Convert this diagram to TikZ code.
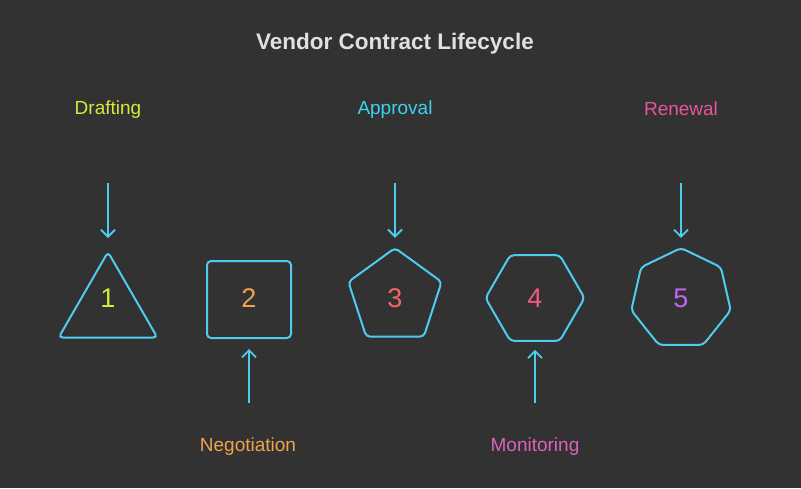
\documentclass[tikz,border=0pt]{standalone}
\usepackage{fontspec}
\setmainfont{Liberation Sans}
\usetikzlibrary{shapes.geometric,arrows.meta}
\definecolor{bg}{HTML}{323232}
\definecolor{edge}{HTML}{4FCBEF}
\definecolor{cyell}{HTML}{D6E83C}
\definecolor{ccyan}{HTML}{3CD2F0}
\definecolor{cpink}{HTML}{E8559A}
\definecolor{corange}{HTML}{F0A24E}
\definecolor{cmon}{HTML}{DD62B8}
\definecolor{cthree}{HTML}{F26666}
\definecolor{cfour}{HTML}{F25A86}
\definecolor{cfive}{HTML}{C266F2}
\tikzset{
  shp/.style={draw=edge,line width=2pt,rounded corners=4pt,inner sep=0pt},
  lbl/.style={font=\fontsize{19}{21}\selectfont},
  num/.style={font=\fontsize{27}{29}\selectfont},
  arr/.style={draw=edge,line width=1.8pt,-{Straight Barb[length=7pt,width=14pt]}}
}
\begin{document}
\begin{tikzpicture}[x=1pt,y=-1pt]
\fill[bg] (0,0) rectangle (801,488);
\useasboundingbox (0,0) rectangle (801,488);
\node[text=white!88!black,font=\bfseries\fontsize{22.5}{25}\selectfont] (title) at (395,44) {Vendor Contract Lifecycle};
\node[lbl,text=cyell] (l1) at (108,110) {Drafting};
\node[lbl,text=ccyan] (l3) at (395,110) {Approval};
\node[lbl,text=cpink] (l5) at (681,109) {Renewal};
\node[lbl,text=corange] (l2) at (248,447) {Negotiation};
\node[lbl,text=cmon] (l4) at (535,447) {Monitoring};
\node[shp,regular polygon,regular polygon sides=3,minimum size=114] (s1) at (108,309) {};
\node[shp,rectangle,minimum width=84,minimum height=77] (s2) at (249,299.5) {};
\node[shp,regular polygon,regular polygon sides=5,minimum size=98] (s3) at (395,297) {};
\node[shp,regular polygon,regular polygon sides=6,minimum size=99] (s4) at (535,298) {};
\node[shp,regular polygon,regular polygon sides=7,minimum size=102] (s5) at (681,299) {};
\node[num,text=cyell] (n1) at (108,298) {1};
\node[num,text=corange] (n2) at (249,298) {2};
\node[num,text=cthree] (n3) at (395,298) {3};
\node[num,text=cfour] (n4) at (535,298) {4};
\node[num,text=cfive] (n5) at (681,298) {5};
\coordinate (a1) at (108,183);
\coordinate (a3) at (395,183);
\coordinate (a5) at (681,183);
\coordinate (a2) at (249,403);
\coordinate (a4) at (535,403);
\draw[arr] (a1) -- ([yshift=12pt]s1.north);
\draw[arr] (a3) -- ([yshift=9pt]s3.north);
\draw[arr] (a5) -- ([yshift=9pt]s5.north);
\draw[arr] (a2) -- ([yshift=-10pt]s2.south);
\draw[arr] (a4) -- ([yshift=-8pt]s4.south);
\end{tikzpicture}
\end{document}
